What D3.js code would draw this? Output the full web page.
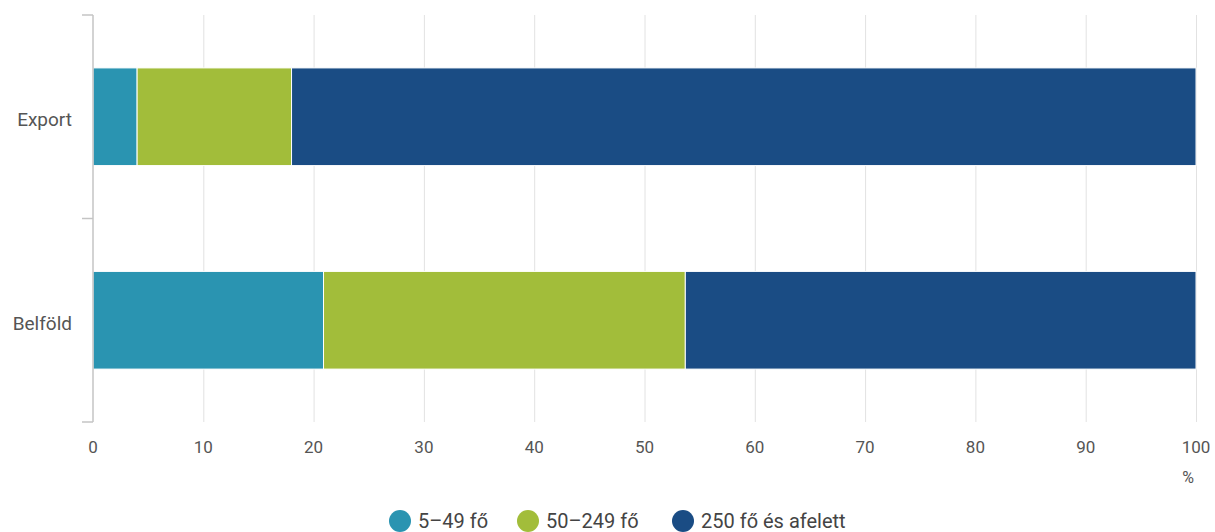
<!DOCTYPE html>
<html><head><meta charset="utf-8">
<script src="https://cdn.jsdelivr.net/npm/d3@7"></script>
<style>
body{margin:0;background:#fff;}
text{font-family:Roboto,"Noto Sans",sans-serif;}
</style></head>
<body><svg id="c" width="1215" height="532"></svg>
<script>
const categories = ["Export", "Belföld"];
const seriesNames = ["5–49 fő", "50–249 fő", "250 fő és afelett"];
const small = [4.0, 20.9];
const medium = [14.0, 32.8];
const large = [82.0, 46.3];
const xTicks = [0,10,20,30,40,50,60,70,80,90,100];
const colors = ["#2a94b1", "#a2bd3a", "#1a4c84"];

(function(){
const svg = d3.select("#c");
const pLeft = 93, pRight = 1196, pTop = 15, pBottom = 422;
const x = d3.scaleLinear().domain([0,100]).range([pLeft,pRight]);
const y = d3.scaleBand().domain(categories).range([pTop,pBottom]).padding(0);
const barH = y.bandwidth()*0.48;

// grid
svg.append("g").selectAll("line").data(xTicks.slice(1)).join("line")
  .attr("x1",d=>x(d)+0.5).attr("x2",d=>x(d)+0.5).attr("y1",pTop).attr("y2",pBottom)
  .attr("stroke","#e2e2e2").attr("stroke-width",1);

const stackData = categories.map((c,i)=>({cat:c, s0:small[i], s1:medium[i], s2:large[i]}));
const stack = d3.stack().keys(["s0","s1","s2"])(stackData);

svg.append("g").selectAll("g").data(stack).join("g")
  .attr("fill",(d,i)=>colors[i])
  .selectAll("rect").data(d=>d).join("rect")
  .attr("x",d=>x(d[0])).attr("width",d=>x(d[1])-x(d[0]))
  .attr("y",d=>y(d.data.cat)+(y.bandwidth()-barH)/2).attr("height",barH)
  .attr("stroke","#fff").attr("stroke-width",1);

// y axis line & ticks
const ax = svg.append("g").attr("stroke","#c4c4c4").attr("stroke-width",1.5).attr("fill","none");
ax.append("line").attr("x1",pLeft).attr("x2",pLeft).attr("y1",pTop).attr("y2",pBottom);
const yTickPos = [pTop, y(categories[1]), pBottom];
ax.selectAll("line.t").data(yTickPos).join("line").attr("class","t")
  .attr("x1",pLeft-11).attr("x2",pLeft).attr("y1",d=>d).attr("y2",d=>d);

// category labels
svg.append("g").selectAll("text").data(categories).join("text")
  .attr("x",72).attr("y",d=>y(d)+y.bandwidth()/2+9.5)
  .attr("text-anchor","end").attr("fill","#555").attr("font-size",19).text(d=>d);

// x tick labels
svg.append("g").selectAll("text").data(xTicks).join("text")
  .attr("x",d=>x(d)).attr("y",453).attr("text-anchor","middle")
  .attr("fill","#555").attr("font-size",17).text(d=>d);
svg.append("text").attr("x",1188).attr("y",483).attr("text-anchor","middle")
  .attr("fill","#555").attr("font-size",16).text("%");

// legend
const legX = [400, 528, 683];
const lg = svg.append("g").selectAll("g").data(seriesNames).join("g")
  .attr("transform",(d,i)=>`translate(${legX[i]},521)`);
lg.append("circle").attr("r",11).attr("fill",(d,i)=>colors[i]);
lg.append("text").attr("x",18).attr("y",7).attr("fill","#444").attr("font-size",20).text(d=>d);
})();
</script></body></html>
